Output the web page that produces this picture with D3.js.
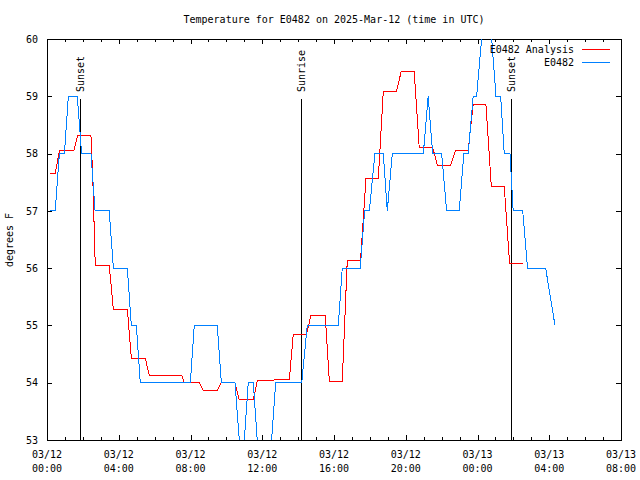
<!DOCTYPE html>
<html><head><meta charset="utf-8">
<script src="https://cdn.jsdelivr.net/npm/d3@7"></script>
<style>
body{margin:0;background:#fff;}
text{font-family:"DejaVu Sans Mono",monospace;font-size:10px;fill:#000;}
</style></head>
<body><svg id="c" width="640" height="480"></svg>
<script>
const titleText = "Temperature for E0482 on 2025-Mar-12 (time in UTC)";
const yLabel = "degrees F";
const seriesNames = ["E0482 Analysis", "E0482"];
const seriesColors = ["#ff0000", "#0080ff"];
// hours since 2025-03-12 00:00 UTC
const analysisHours = [0.17,0.46,0.69,1.49,1.71,2.45,2.55,2.69,3.47,3.70,4.48,4.70,5.48,5.70,7.51,7.65,8.49,8.71,9.49,9.70,10.48,10.72,11.50,11.72,12.62,12.65,13.51,13.73,14.47,14.72,15.51,15.74,16.46,16.74,17.48,17.78,18.47,18.75,19.49,19.75,20.47,20.75,21.50,21.76,22.50,22.78,23.48,23.76,24.47,24.77,25.49,25.79,26.52];
const analysisTemps = [57.65,57.65,58.05,58.05,58.32,58.32,57.6,56.05,56.05,55.28,55.28,54.43,54.43,54.13,54.13,54.0,54.0,53.86,53.86,54.0,54.0,53.70,53.70,54.03,54.03,54.05,54.05,54.85,54.85,55.18,55.18,54.02,54.02,56.14,56.14,57.56,57.56,59.09,59.09,59.44,59.44,58.11,58.11,57.80,57.80,58.06,58.06,58.86,58.86,57.43,57.43,56.08,56.08];
const obsHours = [0.17,0.46,0.69,0.97,1.19,1.69,1.93,2.45,2.68,3.47,3.70,4.48,4.70,4.98,5.20,7.99,8.21,9.49,9.72,10.48,10.72,10.86,11.0,11.22,11.5,11.72,11.9,12.35,12.52,12.75,14.2,14.51,16.24,16.46,17.46,17.71,17.97,18.28,18.75,18.97,19.25,20.98,21.25,21.5,22.0,22.28,22.98,23.24,23.48,23.76,23.95,24.23,24.5,24.79,25.03,25.29,25.49,25.81,25.99,26.52,26.79,27.8,28.32];
const obsTemps = [57,57,58,58,59,59,58,58,57,57,56,56,55,55,54,54,55,55,54,54,53,52.5,53,54,54,53,52,52,53,54,54,55,55,56,56,57,57,58,58,57,58,58,59,58,58,57,57,58,58,59,59,60,61,60,59,59,58,58,57,57,56,56,55];
const sunEventNames = ["Sunset", "Sunrise", "Sunset"];
const sunEventHours = [1.86, 14.18, 25.88];
const yTicks = [53,54,55,56,57,58,59,60];
const xTickHours = [0,4,8,12,16,20,24,28,32];
const xTickLabels = [["03/12","00:00"],["03/12","04:00"],["03/12","08:00"],["03/12","12:00"],["03/12","16:00"],["03/12","20:00"],["03/13","00:00"],["03/13","04:00"],["03/13","08:00"]];
const xMinorHours = d3.range(0,33,1);

const L=47, R=621, T=39, B=440;
const svg = d3.select("#c");
const x = d3.scaleLinear().domain([0,32]).range([L,R]);
const y = d3.scaleLinear().domain([53,60]).range([B,T]);

svg.append("defs").append("clipPath").attr("id","clip")
  .append("rect").attr("x",L).attr("y",T).attr("width",R-L).attr("height",B-T);

svg.append("text").attr("x",334).attr("y",23).attr("text-anchor","middle").text(titleText);
svg.append("text").attr("transform","translate(13,240) rotate(-90)").attr("text-anchor","middle").text(yLabel);

const g = svg.append("g").attr("shape-rendering","crispEdges");
const yAxisL = d3.axisLeft(y).tickValues(yTicks).tickSize(-5).tickPadding(9).tickFormat(d3.format("d"));
g.append("g").attr("transform",`translate(${L},0)`).call(yAxisL).call(s=>s.select(".domain").remove());
const yAxisR = d3.axisRight(y).tickValues(yTicks).tickSize(-5).tickFormat("");
g.append("g").attr("transform",`translate(${R},0)`).call(yAxisR).call(s=>s.select(".domain").remove());
const xAxisB = d3.axisBottom(x).tickValues(xTickHours).tickSize(-5).tickFormat("");
g.append("g").attr("transform",`translate(0,${B})`).call(xAxisB).call(s=>s.select(".domain").remove());
const xAxisBm = d3.axisBottom(x).tickValues(xMinorHours).tickSize(-3).tickFormat("");
g.append("g").attr("transform",`translate(0,${B})`).call(xAxisBm).call(s=>s.select(".domain").remove());
const xAxisT = d3.axisTop(x).tickValues(xTickHours).tickSize(-5).tickFormat("");
g.append("g").attr("transform",`translate(0,${T})`).call(xAxisT).call(s=>s.select(".domain").remove());
const xAxisTm = d3.axisTop(x).tickValues(xMinorHours).tickSize(-3).tickFormat("");
g.append("g").attr("transform",`translate(0,${T})`).call(xAxisTm).call(s=>s.select(".domain").remove());
svg.selectAll("g[font-size]").attr("font-size",null).attr("font-family",null);

const xl = svg.append("g");
xTickHours.forEach((h,i)=>{
  const t = xl.append("text").attr("text-anchor","middle");
  t.append("tspan").attr("x",x(h)).attr("y",458).text(xTickLabels[i][0]);
  t.append("tspan").attr("x",x(h)).attr("y",472).text(xTickLabels[i][1]);
});

sunEventHours.forEach((h,i)=>{
  g.append("line").attr("x1",Math.round(x(h))+0.5).attr("x2",Math.round(x(h))+0.5)
   .attr("y1",B).attr("y2",99).attr("stroke","#000");
  svg.append("text").attr("transform",`translate(${Math.round(x(h))+4},92) rotate(-90)`)
   .attr("text-anchor","start").text(sunEventNames[i]);
});

const line = d3.line().x(d=>x(d[0])).y(d=>y(d[1]));
const dA = analysisHours.map((h,i)=>[h,analysisTemps[i]]);
const dO = obsHours.map((h,i)=>[h,obsTemps[i]]);
const dg = svg.append("g").attr("clip-path","url(#clip)").attr("shape-rendering","crispEdges");
dg.append("path").datum(dA).attr("d",line).attr("fill","none").attr("stroke",seriesColors[0]).attr("stroke-width",1);
dg.append("path").datum(dO).attr("d",line).attr("fill","none").attr("stroke",seriesColors[1]).attr("stroke-width",1);

g.append("rect").attr("x",L+0.5).attr("y",T+0.5).attr("width",R-L).attr("height",B-T)
 .attr("fill","none").attr("stroke","#000");

seriesNames.forEach((n,i)=>{
  svg.append("text").attr("x",574).attr("y",53+i*13).attr("text-anchor","end").text(n);
  g.append("line").attr("x1",582).attr("x2",610).attr("y1",49.5+i*13).attr("y2",49.5+i*13)
   .attr("stroke",seriesColors[i]).attr("stroke-width",1);
});
</script></body></html>
